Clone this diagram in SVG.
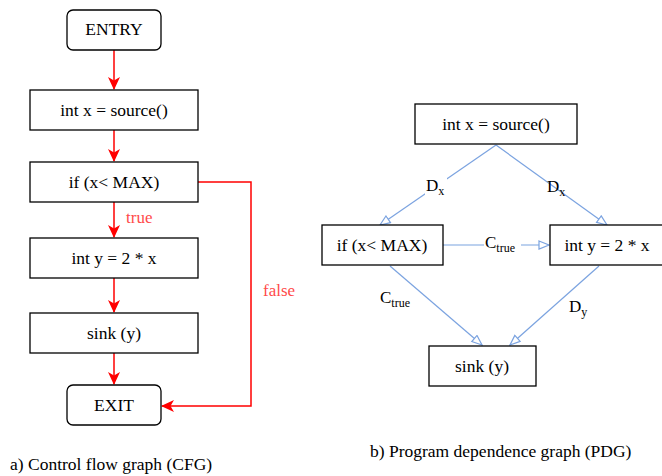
<svg xmlns="http://www.w3.org/2000/svg" width="662" height="476" viewBox="0 0 662 476">
  <style>
    .box { fill: #fff; stroke: #000; stroke-width: 1.3; }
    .t { font-family: "Liberation Serif", "DejaVu Serif", serif; font-size: 17.5px; fill: #000; text-anchor: middle; dominant-baseline: central; }
    .lbl { font-family: "Liberation Serif", "DejaVu Serif", serif; font-size: 17px; fill: #000; }
    .sub { font-size: 12px; }
    .cf { fill: none; stroke: #f00; stroke-width: 1.5; }
    .pd { fill: none; stroke: #7ba3e0; stroke-width: 1.2; }
    .red { fill: #ff4a4a; font-family: "Liberation Serif", "DejaVu Serif", serif; font-size: 17px; }
    .cap { font-family: "Liberation Serif", "DejaVu Serif", serif; font-size: 17.5px; fill: #000; }
  </style>
  <defs>
    <marker id="redArrow" viewBox="0 0 13 12" refX="12" refY="6" markerWidth="13" markerHeight="12" markerUnits="userSpaceOnUse" orient="auto">
      <path d="M0,0 L13,6 L0,12 L3.5,6 Z" fill="#f00"/>
    </marker>
    <marker id="openArrow" viewBox="0 0 12 10" refX="11" refY="5" markerWidth="12" markerHeight="10" markerUnits="userSpaceOnUse" orient="auto">
      <path d="M1,1 L11,5 L1,9 Z" fill="#fff" stroke="#7ba3e0" stroke-width="1.2"/>
    </marker>
  </defs>

  <!-- control flow graph -->
  <g id="cfg-edges">
    <line class="cf" x1="114" y1="50" x2="114" y2="89" marker-end="url(#redArrow)"/>
    <line class="cf" x1="114" y1="130" x2="114" y2="161" marker-end="url(#redArrow)"/>
    <line class="cf" x1="114" y1="202" x2="114" y2="237" marker-end="url(#redArrow)"/>
    <line class="cf" x1="114" y1="278" x2="114" y2="312" marker-end="url(#redArrow)"/>
    <line class="cf" x1="114" y1="353" x2="114" y2="384" marker-end="url(#redArrow)"/>
    <polyline class="cf" points="198,182 251,182 251,406 162,406" marker-end="url(#redArrow)"/>
    <text class="red" x="126" y="223">true</text>
    <text class="red" x="263" y="296">false</text>
  </g>
  <g id="cfg-entry">
    <rect class="box" x="67" y="10" width="94" height="40" rx="6"/>
    <text class="t" x="114" y="29">ENTRY</text>
  </g>
  <g id="cfg-source">
    <rect class="box" x="30" y="90" width="168" height="40"/>
    <text class="t" x="114" y="110">int x = source()</text>
  </g>
  <g id="cfg-if">
    <rect class="box" x="30" y="162" width="168" height="40"/>
    <text class="t" x="114" y="182">if (x&lt; MAX)</text>
  </g>
  <g id="cfg-assign">
    <rect class="box" x="30" y="238" width="168" height="40"/>
    <text class="t" x="114" y="258">int y = 2 * x</text>
  </g>
  <g id="cfg-sink">
    <rect class="box" x="30" y="313" width="168" height="40"/>
    <text class="t" x="114" y="333">sink (y)</text>
  </g>
  <g id="cfg-exit">
    <rect class="box" x="67" y="385" width="94" height="40" rx="6"/>
    <text class="t" x="114" y="405">EXIT</text>
  </g>
  <text class="cap" x="10" y="470">a) Control flow graph (CFG)</text>

  <!-- program dependence graph -->
  <g id="pdg-edges">
    <line class="pd" x1="496" y1="145" x2="380" y2="225" marker-end="url(#openArrow)"/>
    <line class="pd" x1="496" y1="145" x2="607" y2="225" marker-end="url(#openArrow)"/>
    <line class="pd" x1="443" y1="245" x2="549" y2="245" marker-end="url(#openArrow)"/>
    <line class="pd" x1="390" y1="266" x2="482" y2="345" marker-end="url(#openArrow)"/>
    <line class="pd" x1="599" y1="266" x2="510" y2="345" marker-end="url(#openArrow)"/>
    <rect x="425" y="176" width="22" height="20" fill="#fff"/>
    <text class="lbl" x="426" y="191">D<tspan class="sub" dy="4">x</tspan></text>
    <text class="lbl" x="547" y="192">D<tspan class="sub" dy="4">x</tspan></text>
    <rect x="484" y="234" width="37" height="20" fill="#fff"/>
    <text class="lbl" x="485" y="248">C<tspan class="sub" dy="4">true</tspan></text>
    <text class="lbl" x="380" y="303">C<tspan class="sub" dy="4">true</tspan></text>
    <text class="lbl" x="569" y="312">D<tspan class="sub" dy="4">y</tspan></text>
  </g>
  <g id="pdg-source">
    <rect class="box" x="415" y="104" width="162" height="40"/>
    <text class="t" x="496" y="124">int x = source()</text>
  </g>
  <g id="pdg-if">
    <rect class="box" x="322" y="225" width="121" height="40"/>
    <text class="t" x="382" y="245">if (x&lt; MAX)</text>
  </g>
  <g id="pdg-assign">
    <rect class="box" x="550" y="225" width="114" height="40"/>
    <text class="t" x="607" y="245">int y = 2 * x</text>
  </g>
  <g id="pdg-sink">
    <rect class="box" x="429" y="346" width="107" height="40"/>
    <text class="t" x="482" y="366">sink (y)</text>
  </g>
  <text class="cap" x="370" y="457">b) Program dependence graph (PDG)</text>
</svg>
